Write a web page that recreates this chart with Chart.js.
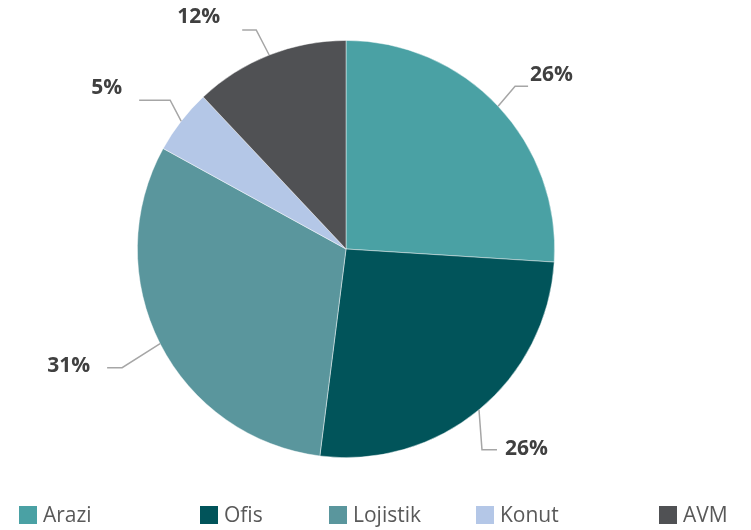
<!DOCTYPE html>
<html>
<head>
<meta charset="utf-8">
<title>Portföy Dağılımı</title>
<script src="https://cdn.jsdelivr.net/npm/chart.js"></script>
<style>
  html, body { margin: 0; padding: 0; background: #fff; }
  #wrap { position: relative; width: 751px; height: 530px; }
  canvas { position: absolute; left: 0; top: 0; }
  .legend { position: absolute; top: 506px; left: 0; width: 751px; height: 24px;
            font-family: "Open Sans", sans-serif; font-size: 21px; color: #595959; }
  .legend span { position: absolute; top: -6px; white-space: nowrap; line-height: 28px; }
  .legend i { display: inline-block; width: 18px; height: 18px; vertical-align: -2px; margin-right: 6px; }
</style>
</head>
<body>
<div id="wrap">
  <canvas id="pie" width="751" height="530"></canvas>
  <div class="legend" id="legend"></div>
</div>
<script>
const categories = ['Arazi', 'Ofis', 'Lojistik', 'Konut', 'AVM'];
const shares = [26, 26, 31, 5, 12];
const colors = ['#4AA1A4', '#01545A', '#5A969D', '#B4C7E7', '#505154'];

// where each leader line bends and where its label sits, relative to the slice edge
const leaders = [
  { elbow: [17, -20], run: 13, text: [2, -11], align: 'left' },
  { elbow: [3, 40], run: 15, text: [8, -1], align: 'left' },
  { elbow: [-38, 24], run: -15, text: [-17, -2], align: 'right' },
  { elbow: [-11, -21], run: -31, text: [-17, -12], align: 'right' },
  { elbow: [-13, -25], run: -14, text: [-22, -13], align: 'right' }
];

const leaderLabels = {
  id: 'leaderLabels',
  afterDatasetsDraw(chart) {
    const ctx = chart.ctx;
    const meta = chart.getDatasetMeta(0);
    meta.data.forEach((arc, i) => {
      const p = arc.getProps(['x', 'y', 'startAngle', 'endAngle', 'outerRadius'], true);
      const mid = (p.startAngle + p.endAngle) / 2;
      const ex = p.x + Math.cos(mid) * p.outerRadius;
      const ey = p.y + Math.sin(mid) * p.outerRadius;
      const l = leaders[i];
      const bx = ex + l.elbow[0], by = ey + l.elbow[1];
      const tx = bx + l.run;
      ctx.save();
      ctx.strokeStyle = '#A6A6A6';
      ctx.lineWidth = 1.5;
      ctx.beginPath();
      ctx.moveTo(ex, ey);
      ctx.lineTo(bx, by);
      ctx.lineTo(tx, by);
      ctx.stroke();
      ctx.fillStyle = '#404040';
      ctx.font = 'bold 21px "Open Sans", sans-serif';
      ctx.textAlign = l.align;
      ctx.textBaseline = 'middle';
      ctx.fillText(shares[i] + '%', tx + l.text[0], by + l.text[1]);
      ctx.restore();
    });
  }
};

new Chart(document.getElementById('pie'), {
  type: 'pie',
  data: {
    labels: categories,
    datasets: [{
      data: shares,
      backgroundColor: colors,
      borderColor: 'rgba(255,255,255,0.6)',
      borderWidth: 0.75
    }]
  },
  options: {
    responsive: false,
    animation: false,
    layout: { padding: { left: 137, right: 196, top: 40, bottom: 72 } },
    plugins: {
      legend: { display: false },
      tooltip: { enabled: false }
    }
  },
  plugins: [leaderLabels]
});

// legend entries along the bottom
const legendX = [19, 200, 329, 476, 659];
const legend = document.getElementById('legend');
categories.forEach((name, i) => {
  const item = document.createElement('span');
  item.style.left = legendX[i] + 'px';
  item.innerHTML = '<i style="background:' + colors[i] + '"></i>' + name;
  legend.appendChild(item);
});
</script>
</body>
</html>
